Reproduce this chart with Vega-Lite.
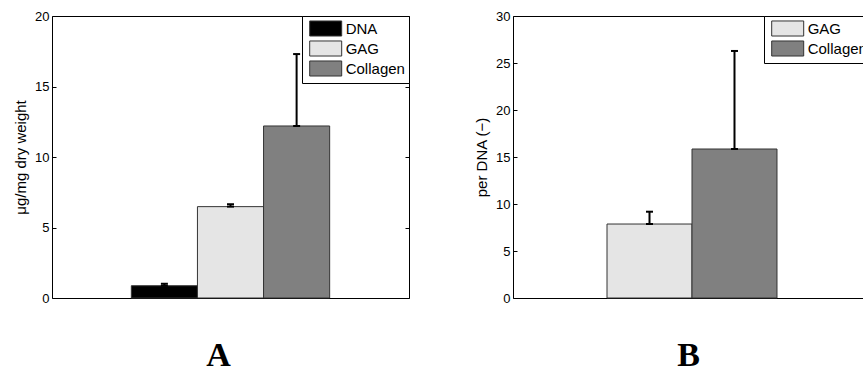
{
  "$schema": "https://vega.github.io/schema/vega-lite/v6.json",
  "padding": {"left": 13, "top": 9, "right": 0, "bottom": 0},
  "spacing": 64,
  "background": "white",
  "config": {
    "font": "Liberation Sans",
    "view": {"stroke": "#000", "strokeWidth": 1},
    "axis": {
      "labelFont": "Liberation Sans", "labelFontSize": 13, "labelColor": "#000",
      "titleFont": "Liberation Sans", "titleFontSize": 15, "titleFontWeight": "normal", "titleColor": "#000",
      "grid": false, "domain": false, "tickColor": "#000", "tickWidth": 1
    },
    "legend": {
      "labelFont": "Liberation Sans", "labelFontSize": 15, "labelColor": "#000",
      "strokeColor": "#000", "fillColor": "#fff", "padding": 4,
      "symbolType": "M-0.6,-0.94H3.4V0.94H-0.6Z", "symbolSize": 256,
      "symbolStrokeColor": "#333", "symbolStrokeWidth": 1, "symbolOpacity": 1,
      "rowPadding": -1, "labelOffset": 22.7, "offset": 0
    }
  },
  "resolve": {"scale": {"color": "independent", "x": "independent", "xOffset": "independent", "y": "independent"}, "legend": {"color": "independent"}},
  "hconcat": [
    {
      "width": 357, "height": 282,
      "data": {"values": [
        {"sample": "scaffold", "group": "DNA", "value": 0.87, "upper": 1.01},
        {"sample": "scaffold", "group": "GAG", "value": 6.48, "upper": 6.65},
        {"sample": "scaffold", "group": "Collagen", "value": 12.2, "upper": 17.3}
      ]},
      "encoding": {
        "x": {"field": "sample", "type": "nominal",
          "scale": {"paddingInner": 0, "paddingOuter": 0.4},
          "axis": {"labels": false, "ticks": false, "title": "A", "titleFont": "Liberation Serif", "titleFontSize": 34, "titleFontWeight": "bold", "titleBaseline": "top", "titlePadding": 40, "titleX": 166}},
        "xOffset": {"field": "group", "type": "nominal", "sort": ["DNA", "GAG", "Collagen"],
          "scale": {"domain": ["DNA", "GAG", "Collagen"], "paddingInner": 0, "paddingOuter": 0}}
      },
      "resolve": {"axis": {"y": "independent"}},
      "layer": [
        {
          "mark": {"type": "bar", "stroke": "#333", "strokeWidth": 1},
          "encoding": {
            "y": {"field": "value", "type": "quantitative", "scale": {"domain": [0, 20], "nice": false},
              "axis": {"title": "μg/mg dry weight", "values": [0, 5, 10, 15, 20], "tickSize": -4, "labelPadding": 7, "titlePadding": 6}},
            "color": {"field": "group", "type": "nominal", "scale": {"domain": ["DNA", "GAG", "Collagen"], "range": ["#000000", "#e5e5e5", "#808080"]},
              "legend": {"title": null, "orient": "top-right"}}
          }
        },
        {
          "mark": {"type": "rule", "strokeWidth": 2, "color": "#000"},
          "encoding": {"y": {"field": "value", "type": "quantitative", "axis": null}, "y2": {"field": "upper"}}
        },
        {
          "mark": {"type": "tick", "size": 7, "thickness": 2, "color": "#000", "opacity": 1},
          "encoding": {"y": {"field": "value", "type": "quantitative", "axis": null}}
        },
        {
          "mark": {"type": "tick", "size": 7, "thickness": 2, "color": "#000", "opacity": 1},
          "encoding": {"y": {"field": "upper", "type": "quantitative",
            "axis": {"orient": "right", "labels": false, "title": null, "values": [0, 5, 10, 15, 20], "tickSize": -4}}}
        }
      ]
    },
    {
      "width": 358, "height": 282,
      "data": {"values": [
        {"sample": "scaffold", "group": "GAG", "value": 7.87, "upper": 9.18},
        {"sample": "scaffold", "group": "Collagen", "value": 15.85, "upper": 26.28}
      ]},
      "encoding": {
        "x": {"field": "sample", "type": "nominal",
          "scale": {"paddingInner": 0, "paddingOuter": 0.553},
          "axis": {"labels": false, "ticks": false, "title": "B", "titleFont": "Liberation Serif", "titleFontSize": 34, "titleFontWeight": "bold", "titleBaseline": "top", "titlePadding": 40, "titleX": 175}},
        "xOffset": {"field": "group", "type": "nominal", "sort": ["GAG", "Collagen"],
          "scale": {"domain": ["GAG", "Collagen"], "paddingInner": 0, "paddingOuter": 0}}
      },
      "resolve": {"axis": {"y": "independent"}},
      "layer": [
        {
          "mark": {"type": "bar", "stroke": "#333", "strokeWidth": 1},
          "encoding": {
            "y": {"field": "value", "type": "quantitative", "scale": {"domain": [0, 30], "nice": false},
              "axis": {"title": "per DNA (−)", "values": [0, 5, 10, 15, 20, 25, 30], "tickSize": -4, "labelPadding": 7, "titlePadding": 6}},
            "color": {"field": "group", "type": "nominal", "scale": {"domain": ["GAG", "Collagen"], "range": ["#e5e5e5", "#808080"]},
              "legend": {"title": null, "orient": "top-right"}}
          }
        },
        {
          "mark": {"type": "rule", "strokeWidth": 2, "color": "#000"},
          "encoding": {"y": {"field": "value", "type": "quantitative", "axis": null}, "y2": {"field": "upper"}}
        },
        {
          "mark": {"type": "tick", "size": 7, "thickness": 2, "color": "#000", "opacity": 1},
          "encoding": {"y": {"field": "value", "type": "quantitative", "axis": null}}
        },
        {
          "mark": {"type": "tick", "size": 7, "thickness": 2, "color": "#000", "opacity": 1},
          "encoding": {"y": {"field": "upper", "type": "quantitative",
            "axis": {"orient": "right", "labels": false, "title": null, "values": [0, 5, 10, 15, 20, 25, 30], "tickSize": -4}}}
        }
      ]
    }
  ]
}
